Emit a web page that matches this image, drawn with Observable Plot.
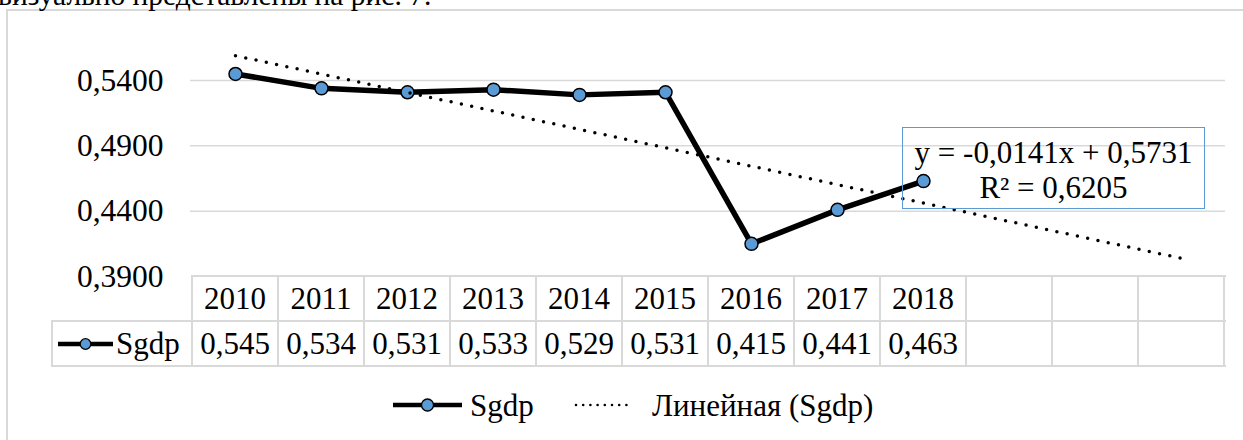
<!DOCTYPE html>
<html>
<head>
<meta charset="utf-8">
<script src="https://cdn.jsdelivr.net/npm/d3@7"></script>
<script src="https://cdn.jsdelivr.net/npm/@observablehq/plot@0.6"></script>
<style>
  body { margin: 0; background: #fff; }
  #wrap { position: relative; width: 1243px; height: 440px; overflow: hidden; background: #fff;
          font-family: "Liberation Serif", "Times New Roman", Times, "DejaVu Serif", serif; color: #000; }
  .abs { position: absolute; }
  .cell { position: absolute; display: flex; align-items: center; justify-content: center;
          font-size: 31px; white-space: nowrap; line-height: 45px; height: 45px; }
  .hl { position: absolute; height: 1.5px; background: #d9d9d9; }
  .vl { position: absolute; width: 1.5px; background: #d9d9d9; }
</style>
</head>
<body>
<div id="wrap"></div>
<script>
// ---------- data ----------
const topText = "визуально представлены на рис. 7.";
const years = ["2010", "2011", "2012", "2013", "2014", "2015", "2016", "2017", "2018"];
const sgdp = [0.545, 0.534, 0.531, 0.533, 0.529, 0.531, 0.415, 0.441, 0.463];
const sgdpLabels = ["0,545", "0,534", "0,531", "0,533", "0,529", "0,531", "0,415", "0,441", "0,463"];
const forecastPeriods = 3;
const yTicks = [0.39, 0.44, 0.49, 0.54];
const yTickLabels = ["0,3900", "0,4400", "0,4900", "0,5400"];
const trendSlope = -0.0141;
const trendIntercept = 0.5731;
const trendEquation = "y = -0,0141x + 0,5731";
const trendR2 = "R² = 0,6205";
const seriesName = "Sgdp";
const trendName = "Линейная (Sgdp)";

// ---------- derived ----------
const periods = d3.range(1, years.length + forecastPeriods + 1);
const series = years.map((y, i) => ({t: i + 1, v: sgdp[i]}));
const trend = [periods[0], periods[periods.length - 1]].map(t => ({t, v: trendSlope * t + trendIntercept}));

const BLUE = "#5B9BD5";
const GRID = "#d9d9d9";
const FONT = "'Liberation Serif', 'Times New Roman', Times, 'DejaVu Serif', serif";

const wrap = document.getElementById("wrap");

// frame of chart area
const frame = document.createElement("div");
frame.className = "abs";
Object.assign(frame.style, {left: "6px", top: "9px", width: "1400px", height: "600px",
  border: "2px solid " + GRID, boxSizing: "border-box"});
wrap.appendChild(frame);

// cut-off text above
const tt = document.createElement("div");
tt.className = "abs";
Object.assign(tt.style, {left: "-2px", top: "-20.5px", fontSize: "29.5px", lineHeight: "30px", whiteSpace: "nowrap"});
tt.textContent = topText;
wrap.appendChild(tt);

// ---------- plot ----------
const plot = Plot.plot({
  width: 1243,
  height: 300,
  marginTop: 14.67,
  marginBottom: 24,
  marginLeft: 190,
  marginRight: 18,
  x: {type: "point", domain: periods, padding: 0.5, axis: null},
  y: {domain: [0.39, 0.59], axis: null},
  style: {background: "transparent", overflow: "visible", fontFamily: FONT, color: "#000"},
  marks: [
    Plot.ruleY(yTicks.slice(1), {stroke: GRID, strokeWidth: 1.5}),
    Plot.axisY(yTicks, {tickSize: 0, tickPadding: 27, fontSize: 31.5, fill: "#000", label: null,
      fontFamily: FONT, tickFormat: d => yTickLabels[yTicks.indexOf(d)]}),
    Plot.line(series, {x: "t", y: "v", stroke: "#000", strokeWidth: 5.5, strokeLinejoin: "round"}),
    Plot.dot(series, {x: "t", y: "v", r: 6.5, fill: BLUE, stroke: "#000", strokeWidth: 1.5}),
    Plot.line(trend, {x: "t", y: "v", stroke: "#000", strokeWidth: 3.5,
      strokeDasharray: "0 10.5", strokeLinecap: "round"})
  ]
});
plot.style.position = "absolute";
plot.style.left = "0px";
plot.style.top = "0px";
wrap.appendChild(plot);

// ---------- data table under axis ----------
const xs = plot.scale("x");
const step = xs.apply(periods[1]) - xs.apply(periods[0]);
const ys = plot.scale("y");
const tTop = ys.apply(0.39);
const rowH = 45;
const colLeft = xs.apply(periods[0]) - step / 2;
const colRight = xs.apply(periods[periods.length - 1]) + step / 2;
const keyLeft = 52;

function hl(x1, x2, y) {
  const d = document.createElement("div"); d.className = "hl";
  Object.assign(d.style, {left: x1 + "px", width: (x2 - x1 + 1.5) + "px", top: (y - 0.75) + "px"});
  wrap.appendChild(d);
}
function vl(x, y1, y2) {
  const d = document.createElement("div"); d.className = "vl";
  Object.assign(d.style, {left: (x - 0.75) + "px", top: (y1 - 0.75) + "px", height: (y2 - y1 + 1.5) + "px"});
  wrap.appendChild(d);
}
hl(colLeft, colRight, tTop);
hl(keyLeft, colRight, tTop + rowH);
hl(keyLeft, colRight, tTop + 2 * rowH);
vl(keyLeft, tTop + rowH, tTop + 2 * rowH);
periods.forEach((p, i) => vl(colLeft + i * step, tTop, tTop + 2 * rowH));
vl(colRight, tTop, tTop + 2 * rowH);

function cell(x, w, y, text) {
  const d = document.createElement("div"); d.className = "cell";
  Object.assign(d.style, {left: x + "px", width: w + "px", top: y + "px"});
  d.textContent = text;
  wrap.appendChild(d);
}
years.forEach((yr, i) => {
  const cx = xs.apply(i + 1);
  cell(cx - step / 2, step, tTop, yr);
  cell(cx - step / 2, step, tTop + rowH, sgdpLabels[i]);
});

function keySvg(w, dotted, lw, r) {
  const ns = "http://www.w3.org/2000/svg";
  const s = document.createElementNS(ns, "svg");
  s.setAttribute("width", w); s.setAttribute("height", 20);
  const l = document.createElementNS(ns, "line");
  l.setAttribute("x1", dotted ? 2 : 0); l.setAttribute("x2", dotted ? w - 2 : w);
  l.setAttribute("y1", 10); l.setAttribute("y2", 10);
  l.setAttribute("stroke", "#000"); l.setAttribute("stroke-width", lw);
  if (dotted) { l.setAttribute("stroke-dasharray", "0 7.2"); l.setAttribute("stroke-linecap", "round"); }
  s.appendChild(l);
  if (!dotted) {
    const c = document.createElementNS(ns, "circle");
    c.setAttribute("cx", w / 2); c.setAttribute("cy", 10); c.setAttribute("r", r);
    c.setAttribute("fill", BLUE); c.setAttribute("stroke", "#000"); c.setAttribute("stroke-width", 1.3);
    s.appendChild(c);
  }
  return s;
}
// key in the table
const k1 = keySvg(55, false, 4.5, 5.3);
k1.classList.add("abs");
Object.assign(k1.style, {left: "58px", top: (tTop + rowH + rowH / 2 - 10) + "px"});
wrap.appendChild(k1);
const k1t = document.createElement("div"); k1t.className = "cell";
Object.assign(k1t.style, {left: "116px", top: (tTop + rowH) + "px", justifyContent: "flex-start"});
k1t.textContent = seriesName;
wrap.appendChild(k1t);

// ---------- legend ----------
const legY = 405;
const lk1 = keySvg(69, false, 4.5, 6);
lk1.classList.add("abs");
Object.assign(lk1.style, {left: "393px", top: (legY - 10) + "px"});
wrap.appendChild(lk1);
const lt1 = document.createElement("div"); lt1.className = "cell";
Object.assign(lt1.style, {left: "470px", top: (legY - 22.5) + "px", justifyContent: "flex-start"});
lt1.textContent = seriesName;
wrap.appendChild(lt1);
const lk2 = keySvg(60, true, 2.6, 0);
lk2.classList.add("abs");
Object.assign(lk2.style, {left: "574px", top: (legY - 10) + "px"});
wrap.appendChild(lk2);
const lt2 = document.createElement("div"); lt2.className = "cell";
Object.assign(lt2.style, {left: "652px", top: (legY - 22.5) + "px", justifyContent: "flex-start"});
lt2.textContent = trendName;
wrap.appendChild(lt2);

// ---------- trendline equation box ----------
const box = document.createElement("div");
box.className = "abs";
Object.assign(box.style, {left: "902px", top: "127px", width: "303px", height: "82px",
  border: "1.5px solid " + BLUE, boxSizing: "border-box"});
wrap.appendChild(box);
[[trendEquation, 152], [trendR2, 187]].forEach(([txt, cy]) => {
  const d = document.createElement("div"); d.className = "cell";
  Object.assign(d.style, {left: "902px", width: "303px", top: (cy - 22.5) + "px"});
  d.textContent = txt;
  wrap.appendChild(d);
});
</script>
</body>
</html>
